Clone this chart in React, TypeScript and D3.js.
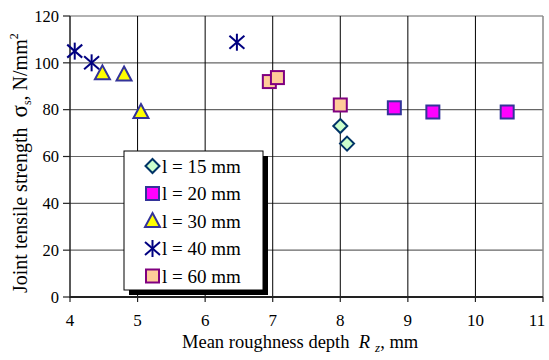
import React from 'react';
import * as d3 from 'd3';

// data
const xTicks = [4, 5, 6, 7, 8, 9, 10, 11];
const yTicks = [0, 20, 40, 60, 80, 100, 120];

const l15 = [[8.0, 73], [8.1, 65.5]];
const l20 = [[8.8, 80.8], [9.37, 79], [10.47, 79]];
const l30 = [[4.48, 95.5], [4.8, 95], [5.05, 79]];
const l40 = [[4.07, 105], [4.32, 100], [6.47, 108.8]];
const l60 = [[6.95, 92], [7.07, 93.7], [8.0, 82]];

const legendLabels = ['l = 15 mm', 'l = 20 mm', 'l = 30 mm', 'l = 40 mm', 'l = 60 mm'];

const W = 549, H = 360;
const margin = { top: 16, right: 6, bottom: 63, left: 70 };
const FONT = "'Liberation Serif', 'Times New Roman', serif";

function Marker({ kind, x, y }: { kind: string; x: number; y: number }) {
    if (kind === 'diamond') {
        const r = 7;
        return <path d={`M${x},${y - r}L${x + r},${y}L${x},${y + r}L${x - r},${y}Z`}
            fill="#ccffcc" stroke="#003366" strokeWidth={2} />;
    }
    if (kind === 'square20') {
        return <rect x={x - 6.5} y={y - 6.5} width={13} height={13} fill="#ff00ff" stroke="#333399" strokeWidth={2} />;
    }
    if (kind === 'square60') {
        return <rect x={x - 6.5} y={y - 6.5} width={13} height={13} fill="#ffcc99" stroke="#800080" strokeWidth={2} />;
    }
    if (kind === 'triangle') {
        return <path d={`M${x},${y - 8}L${x + 7.5},${y + 6}L${x - 7.5},${y + 6}Z`}
            fill="#ffff00" stroke="#333399" strokeWidth={2} />;
    }
    // asterisk
    const a = 7.5;
    return <g stroke="#000080" strokeWidth={2}>
        <line x1={x} y1={y - a - 1} x2={x} y2={y + a + 1} />
        <line x1={x - a} y1={y - a + 1} x2={x + a} y2={y + a - 1} />
        <line x1={x - a} y1={y + a - 1} x2={x + a} y2={y - a + 1} />
    </g>;
}

export default function App() {
    const x = d3.scaleLinear().domain([4, 11]).range([margin.left, W - margin.right]);
    const y = d3.scaleLinear().domain([0, 120]).range([H - margin.bottom, margin.top]);

    const series = [
        { kind: 'diamond', data: l15 },
        { kind: 'square20', data: l20 },
        { kind: 'triangle', data: l30 },
        { kind: 'asterisk', data: l40 },
        { kind: 'square60', data: l60 },
    ];

    const x0 = x(4), x1 = x(11), y0 = y(0), y1 = y(120);
    const lg = { x: 124, y: 151, w: 139, h: 139 };

    return (
        <svg width={W} height={H} fontFamily={FONT} style={{ position: 'absolute', left: 0, top: 0 }}>
            <rect width={W} height={H} fill="#fff" />
            {yTicks.slice(1).map(t =>
                <line key={'h' + t} x1={x0} x2={x1} y1={y(t)} y2={y(t)} stroke="#666" strokeWidth={1.2} />)}
            {xTicks.slice(1, -1).map(t =>
                <line key={'v' + t} x1={x(t)} x2={x(t)} y1={y1} y2={y0} stroke="#000" strokeWidth={1} />)}
            <line x1={x1} x2={x1} y1={y1} y2={y0} stroke="#888" strokeWidth={1.5} />
            <line x1={x0} x2={x0} y1={y1} y2={y0 + 1} stroke="#222" strokeWidth={1.5} />
            <line x1={x0} x2={x1} y1={y0} y2={y0} stroke="#222" strokeWidth={2} />
            {yTicks.map(t => <g key={'yt' + t}>
                <line x1={x0 - 7} x2={x0} y1={y(t)} y2={y(t)} stroke="#222" strokeWidth={1.2} />
                <text x={x0 - 11} y={y(t)} dy="0.35em" textAnchor="end" fontSize={16.5}>{t}</text>
            </g>)}
            {xTicks.map(t => <g key={'xt' + t}>
                <line x1={x(t)} x2={x(t)} y1={y0} y2={y0 + 5} stroke="#222" strokeWidth={1.2} />
                <text x={Math.min(x(t), W - 12)} y={y0 + 29} textAnchor="middle" fontSize={17}>{t}</text>
            </g>)}

            {series.map(s => s.data.map((d, i) =>
                <Marker key={s.kind + i} kind={s.kind} x={x(d[0])} y={y(d[1])} />))}

            <rect x={lg.x + 5} y={lg.y + 5} width={lg.w} height={lg.h} fill="#000" />
            <rect x={lg.x} y={lg.y} width={lg.w} height={lg.h} fill="#fff" stroke="#000" strokeWidth={1} />
            {series.map((s, i) => {
                const cy = lg.y + 15 + i * 27.5;
                return <g key={'lg' + i}>
                    <Marker kind={s.kind} x={lg.x + 28.5} y={cy} />
                    <text x={lg.x + 38} y={cy} dy="0.35em" fontSize={19}>{legendLabels[i]}</text>
                </g>;
            })}

            <text x={182} y={348} fontSize={18.5} xmlSpace="preserve">
                {'Mean roughness depth  '}<tspan fontStyle="italic">R</tspan><tspan fontStyle="italic" fontSize={13} dx={5} dy={4}>z</tspan><tspan dy={-4}>, mm</tspan>
            </text>
            <text transform={`translate(27,293) rotate(-90)`} fontSize={20} xmlSpace="preserve">
                {'Joint tensile strength  '}<tspan fontSize={23}>σ</tspan><tspan fontSize={12} dy={4}>s</tspan><tspan dy={-4}>, N/mm</tspan><tspan fontSize={12} dy={-9}>2</tspan>
            </text>
        </svg>
    );
}
